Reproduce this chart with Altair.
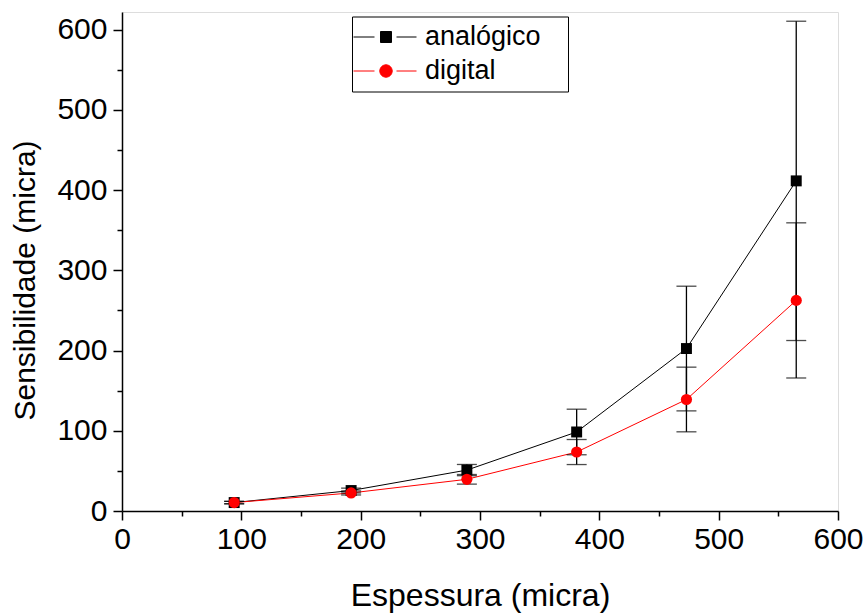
import altair as alt
import pandas as pd

# Espessura (micra) and measured sensitivity with its uncertainty for each method
espessura = [94, 192, 289, 381, 473, 565]
analogico = [10.5, 25.5, 51, 98.5, 202.5, 411.5]
analogico_erro = [1.5, 3, 7, 28.4, 77.7, 199]
digital = [10.5, 22.5, 39.5, 73.5, 139, 262.5]
digital_erro = [1.5, 2.5, 6, 15.6, 40.3, 96.7]

series = ["analógico", "digital"]
series_colors = ["#000000", "#ff0000"]

rows = []
for nome, valores, erros in [(series[0], analogico, analogico_erro),
                             (series[1], digital, digital_erro)]:
    for x, v, e in zip(espessura, valores, erros):
        rows.append({"serie": nome, "espessura": x, "valor": v,
                     "baixo": v - e, "alto": v + e})
df = pd.DataFrame(rows)

FONT = "Liberation Sans"

x_scale = alt.Scale(domain=[0, 600], nice=False, zero=False)
y_scale = alt.Scale(domain=[0, 622], nice=False)

tick_values = list(range(0, 601, 50))
major_only = "datum.value % 100 === 0 ? datum.label : ''"
tick_size = {"condition": {"test": "datum.value % 100 !== 0", "value": 5}, "value": 9}

common_axis = dict(
    values=tick_values, labelExpr=major_only, tickSize=tick_size, grid=False,
    domainColor="black", domainWidth=1.5, tickColor="black", tickWidth=1.5,
    labelFont=FONT, labelFontSize=30, labelColor="black",
    titleFont=FONT, titleFontWeight="normal", titleColor="black",
    titleBaseline="alphabetic",
)
x_axis = alt.Axis(title="Espessura (micra)", labelPadding=4, titleY=94.5, titleFontSize=32,
                  labelFlush=False, labelOverlap=False, **common_axis)
y_axis = alt.Axis(title="Sensibilidade (micra)", labelPadding=6, titleX=-88, titleFontSize=30,
                  titleY=268, titleAngle=-90, labelOverlap=False, **common_axis)

X = alt.X("espessura:Q", scale=x_scale, axis=x_axis)
Y = alt.Y("valor:Q", scale=y_scale, axis=y_axis)

base = alt.Chart(df)
only_analog = base.transform_filter(alt.datum.serie == series[0])
only_digital = base.transform_filter(alt.datum.serie == series[1])

line_analog = only_analog.mark_line(strokeWidth=1, color=series_colors[0]).encode(x=X, y=Y)
line_digital = only_digital.mark_line(strokeWidth=1, color=series_colors[1]).encode(x=X, y=Y)

squares = only_analog.mark_point(
    shape="square", filled=True, size=120, opacity=1, color=series_colors[0]
).encode(x=X, y=Y)

circles = only_digital.mark_point(
    shape="circle", filled=True, size=125, opacity=1, color=series_colors[1]
).encode(x=X, y=Y)

err_bars = base.mark_rule(color="black", strokeWidth=1.3).encode(
    x=X, y=alt.Y("baixo:Q", scale=y_scale), y2="alto:Q"
)
caps_top = base.mark_tick(orient="horizontal", size=20, thickness=1.3, color="black").encode(
    x=X, y=alt.Y("alto:Q", scale=y_scale)
)
caps_bottom = base.mark_tick(orient="horizontal", size=20, thickness=1.3, color="black").encode(
    x=X, y=alt.Y("baixo:Q", scale=y_scale)
)

# Legend glyphs (unit = 12 px): line segment, marker, line segment
path_square = ("M-1.583,0H0.167M2.0,0H3.667"
               "M0.667,-0.458H1.583V0.458H0.667Z")
path_circle = ("M-1.583,0H0.167M2.0,0H3.667"
               "M1.642,0A0.517,0.517,0,1,1,0.608,0A0.517,0.517,0,1,1,1.642,0Z")

legend = alt.Legend(
    title=None, orient="none", legendX=230, legendY=4.5, padding=7,
    strokeColor="black", fillColor="white", cornerRadius=0,
    labelFont=FONT, labelFontSize=27, labelColor="black", labelOffset=39,
    labelExpr="datum.label + '\u2800'",
    symbolSize=576, symbolStrokeWidth=1, rowPadding=6,
)

legend_layer = base.transform_filter("false").mark_point(size=576, opacity=1).encode(
    x=X, y=Y,
    fill=alt.Fill("serie:N", scale=alt.Scale(domain=series, range=series_colors), legend=legend),
    stroke=alt.Stroke("serie:N", scale=alt.Scale(domain=series, range=series_colors), legend=legend),
    shape=alt.Shape("serie:N", scale=alt.Scale(domain=series, range=[path_square, path_circle]),
                    legend=legend),
)

chart = alt.layer(
    line_analog, line_digital, err_bars, caps_top, caps_bottom, squares, circles, legend_layer
).properties(
    width=716, height=499,
    autosize=alt.AutoSizeParams(type="none"),
    padding={"left": 122, "top": 12, "right": 26, "bottom": 102},
).configure_view(stroke=None).configure(background="white")

chart.save("out.html", embed_options={"renderer": "svg", "actions": False})
